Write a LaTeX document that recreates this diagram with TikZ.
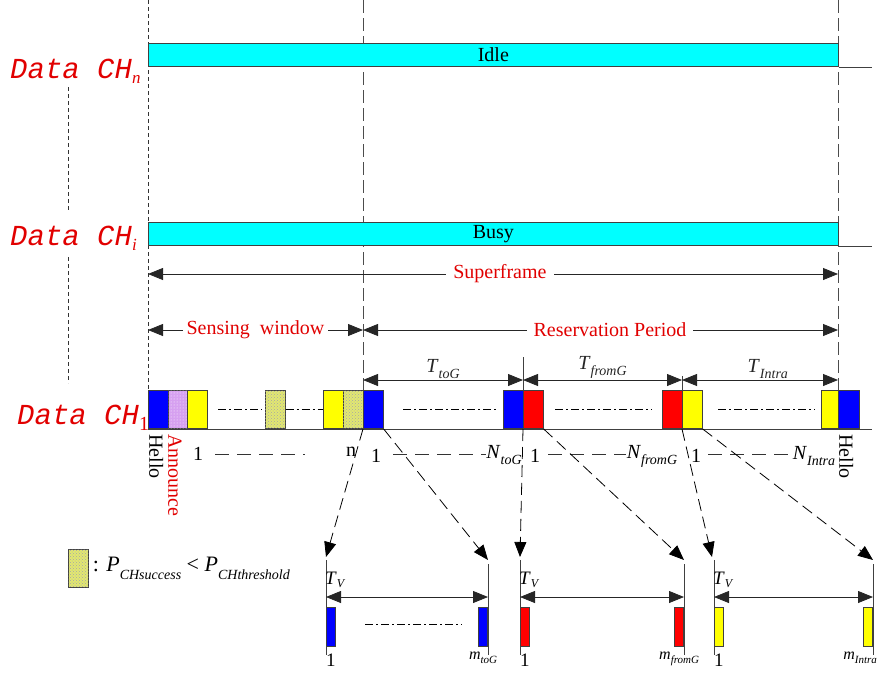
\documentclass[tikz,border=0pt]{standalone}
\usepackage{fontspec}
\setmainfont{Liberation Serif}
\newfontfamily\chfont{Liberation Mono}
\usetikzlibrary{arrows.meta, patterns, positioning}
\definecolor{barcyan}{RGB}{0,255,255}
\definecolor{pktblue}{RGB}{0,0,255}
\definecolor{pktred}{RGB}{255,0,0}
\definecolor{pktyellow}{RGB}{255,255,0}
\definecolor{chkyellow}{RGB}{226,232,112}
\definecolor{annviolet}{RGB}{214,160,240}
\definecolor{lblred}{RGB}{225,0,0}
\newcommand{\lowsub}[2][0.3em]{\raisebox{-#1}{\fontsize{14}{14}\selectfont\rmfamily\itshape #2}}

\begin{document}
\begin{tikzpicture}[x=1pt, y=-1pt, font=\fontsize{20}{22}\selectfont,
  blk/.style={draw=black!75, line width=0.7pt, minimum width=20pt, minimum height=38pt, inner sep=0pt, anchor=south west},
  sblk/.style={blk, minimum width=9pt, minimum height=39pt},
  chkblk/.style={blk, fill=chkyellow, postaction={pattern=crosshatch dots, pattern color=black!35}},
  annblk/.style={blk, fill=annviolet, postaction={pattern=dots, pattern color=white}},
  bar/.style={draw=black!75, line width=0.7pt, fill=barcyan, minimum width=690pt, minimum height=23pt, inner sep=0pt, anchor=south west},
  chlbl/.style={font=\chfont\itshape\fontsize{29}{29}\selectfont, text=lblred, inner sep=0pt, anchor=base west},
  lbl/.style={inner sep=1pt},
  redlbl/.style={lbl, text=lblred, fill=white, inner xsep=7pt},
  vlbl/.style={rotate=-90, anchor=south west, inner sep=0pt},
  guide/.style={black!80, line width=0.7pt, dash pattern=on 4pt off 3pt},
  guideL/.style={black!70, line width=0.9pt, dash pattern=on 13pt off 5pt},
  dim/.style={{Triangle[length=15pt,width=12pt]}-{Triangle[length=15pt,width=12pt]}, line width=0.8pt, black!85},
  map/.style={-{Triangle[length=15pt,width=12pt]}, dash pattern=on 12pt off 6pt, line width=0.8pt},
  dashdot/.style={line width=0.7pt, dash pattern=on 8pt off 3pt on 2pt off 3pt},
  idx/.style={line width=0.7pt, black!80, dash pattern=on 14pt off 8pt},
  brk/.style={line width=0.7pt, black!75}]
\useasboundingbox (0,0) rectangle (881,678);

% guide lines
\draw[guide] (148,0) -- (148,390);
\draw[guideL] (363,0) -- (363,429);
\draw[guideL] (838,0) -- (838,429);
\draw[guide] (68,87) -- (68,212);
\draw[guide] (68,257) -- (68,383);

% channel n and channel i
\node[bar] (chn) at (148,67) {Idle};
\draw[brk] (chn.south east) -- (872,67);
\node[bar] (chi) at (148,246) {Busy};
\draw[brk] (chi.south east) -- (872,246);
\node[chlbl] (lbln) at (10,78) {Data CH{\rmfamily\itshape\fontsize{17}{17}\selectfont\raisebox{-0.3em}{n}}};
\node[chlbl] (lbli) at (10,245) {Data CH{\rmfamily\itshape\fontsize{17}{17}\selectfont\raisebox{-0.3em}{i}}};
\node[chlbl] (lbl1) at (17,424) {Data CH{\rmfamily\upshape\fontsize{20}{20}\selectfont\raisebox{-0.3em}{1}}};

% superframe
\draw[dim] (148,274) -- node[redlbl, pos=0.51] (sf) {Superframe} (838,274);
\draw[dim] (148,330) -- node[redlbl, inner xsep=4pt] (sw) {Sensing~ window} (363,330);
\draw[dim] (363,330) -- node[redlbl, pos=0.52] (rp) {Reservation Period} (838,330);

% control channel
\draw[brk] (148,429) -- (872,429);
\node[blk, fill=pktblue] (hello1) at (148,429) {};
\node[annblk] (ann) at (168,429) {};
\node[blk, fill=pktyellow] (s1) at (187,429) {};
\node[chkblk] (chk1) at (265,429) {};
\node[blk, fill=pktyellow] (sn) at (323,429) {};
\node[chkblk] (chkn) at (343,429) {};
\node[blk, fill=pktblue] (b1) at (363,429) {};
\node[blk, fill=pktblue] (bN) at (503,429) {};
\node[blk, fill=pktred] (r1) at (523,429) {};
\node[blk, fill=pktred] (rN) at (662,429) {};
\node[blk, fill=pktyellow] (y1) at (682,429) {};
\node[blk, fill=pktyellow, minimum width=17pt] (yN) at (821,429) {};
\node[blk, fill=pktblue, minimum width=21pt] (hello2) at (838,429) {};
\draw[dashdot] (218,409) -- (262,409);
\draw[dashdot] (chk1.east) -- (sn.west);
\draw[dashdot] (403,409) -- (498,409);
\draw[dashdot] (555,409) -- (652,409);
\draw[dashdot] (718,409) -- (815,409);

% periods
\draw[brk] (r1.north west) -- ++(0,-33);
\draw[brk] (y1.north west) -- ++(0,-14);
\draw[dim] (363,380) -- node[lbl, above] (ttog) {\textit{T}\lowsub{toG}} (523,380);
\draw[dim] (523,380) -- node[lbl, above] (tfrom) {\textit{T}\lowsub{fromG}} (682,380);
\draw[dim] (682,380) -- node[lbl, above, pos=0.55] (tintra) {\textit{T}\lowsub{Intra}} (838,380);

% slot indices
\node[vlbl] (hlo1) at (149,434) {Hello};
\node[vlbl, text=lblred] (annlbl) at (168,434) {Announce};
\node[vlbl] (hlo2) at (839,434) {Hello};
\node[lbl] (i1) at (198,454) {1};
\draw[idx] (215,454) -- (305,454);
\node[lbl] (in) at (351,452) {n};
\node[lbl] (i2) at (376,456) {1};
\draw[idx] (393,454) -- (486,454);
\node[lbl] (ntog) at (504,455) {\textit{N}\lowsub{toG}};
\node[lbl] (i3) at (535,456) {1};
\draw[idx] (548,454) -- (626,454);
\node[lbl] (nfrom) at (652,456) {\textit{N}\lowsub{fromG}};
\node[lbl] (i4) at (696,456) {1};
\draw[idx] (708,454) -- (794,454);
\node[lbl] (nintra) at (814,456) {\textit{N}\lowsub{Intra}};

% legend
\node[chkblk, minimum height=38pt] (leg) at (68,588) {};
\node[lbl, right=3pt of leg, font=\fontsize{22}{22}\selectfont] (legtxt) {: \textit{P}\lowsub[0.35em]{CHsuccess} < \textit{P}\lowsub[0.35em]{CHthreshold}};

% vehicle slots
\coordinate (g1L) at (326,557);
\coordinate (g1R) at (488,560);
\coordinate (g2L) at (520,557);
\coordinate (g2R) at (684,560);
\coordinate (g3L) at (712,557);
\coordinate (g3R) at (873,560);
\foreach \l/\r/\c/\m/\na/\xs in {326/488/pktblue/toG/a/0, 520/684/pktred/fromG/b/0, 714/873/pktyellow/Intra/c/-8}{
  \draw[brk] (\l,560) -- (\l,655);
  \draw[brk] (\r,564) -- (\r,655);
  \draw[dim] (\l,597) -- (\r,597);
  \node[lbl, anchor=base west, inner sep=0pt, font=\fontsize{19}{19}\selectfont] (tv\na) at (\l-1,584) {\textit{T}{\fontsize{12}{12}\selectfont\raisebox{-0.3em}{\textit{V}}}};
  \node[sblk, fill=\c] (v1\na) at (\l,647) {};
  \node[sblk, fill=\c, anchor=south east] (vm\na) at (\r,647) {};
  \node[lbl, below=6pt of v1\na, font=\fontsize{19}{19}\selectfont] {1};
  \node[lbl, below=4pt of vm\na, xshift=\xs pt, font=\fontsize{16}{16}\selectfont] {\textit{m}{\fontsize{11}{11}\selectfont\raisebox{-0.35em}{\textit{\m}}}};
}
\draw[dashdot] (365,624) -- (462,624);

% mapping
\draw[map] (b1.south west) -- (g1L);
\draw[map] (b1.south east) -- (g1R);
\draw[map] (r1.south west) -- (g2L);
\draw[map] (r1.south east) -- (g2R);
\draw[map] (y1.south west) -- (g3L);
\draw[map] (y1.south east) -- (g3R);
\end{tikzpicture}
\end{document}
